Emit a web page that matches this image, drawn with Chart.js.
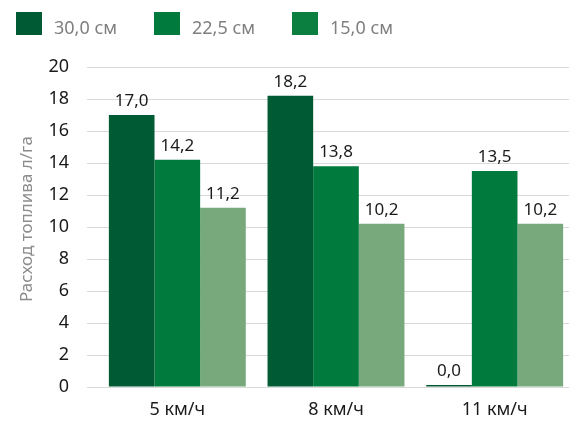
<!DOCTYPE html>
<html>
<head>
<meta charset="utf-8">
<script src="https://cdn.jsdelivr.net/npm/chart.js@4/dist/chart.umd.min.js"></script>
<style>
  html, body { margin: 0; padding: 0; overflow: hidden; background: #fff; width: 569px; height: 422px; }
  #wrap { width: 574px; height: 422px; position: relative; }
</style>
</head>
<body>
<div id="wrap"><canvas id="c"></canvas></div>
<script>
// Fuel consumption (l/ha) by working speed for three row spacings
const categories = ['5 км/ч', '8 км/ч', '11 км/ч'];
const seriesNames = ['30,0 см', '22,5 см', '15,0 см'];
const spacing30 = [17.0, 18.2, 0.0];
const spacing225 = [14.2, 13.8, 13.5];
const spacing15 = [11.2, 10.2, 10.2];
const yTickValues = [0, 2, 4, 6, 8, 10, 12, 14, 16, 18, 20];
const axisTitle = 'Расход топлива л/га';

const barColors = ['#005a33', '#007a3d', '#77a97c'];
const legendColors = ['#005a33', '#007a3d', '#0b7f40'];
const FONT = "'Noto Sans', 'Open Sans', sans-serif";

const fmt = v => v.toFixed(1).replace('.', ',');

// Value labels above each bar
const valueLabels = {
  id: 'valueLabels',
  afterDatasetsDraw(chart) {
    const ctx = chart.ctx;
    ctx.save();
    ctx.font = '17px ' + FONT;
    ctx.fillStyle = '#1a1a1a';
    ctx.textAlign = 'center';
    ctx.textBaseline = 'alphabetic';
    chart.data.datasets.forEach((ds, i) => {
      chart.getDatasetMeta(i).data.forEach((bar, j) => {
        ctx.fillText(fmt(ds.data[j]), bar.x, bar.y - 9);
      });
    });
    ctx.restore();
  }
};

// Legend row across the top and the rotated value-axis caption
const chrome = {
  id: 'chrome',
  afterDraw(chart) {
    const ctx = chart.ctx;
    ctx.save();
    ctx.font = '18px ' + FONT;
    ctx.textBaseline = 'alphabetic';
    ctx.textAlign = 'left';
    chart.data.datasets.forEach((ds, i) => {
      const x = 16 + i * 138;
      ctx.fillStyle = legendColors[i];
      ctx.fillRect(x, 12, 26, 23);
      ctx.fillStyle = '#7f7f7f';
      ctx.fillText(ds.label, x + 38, 34);
    });
    ctx.restore();

    ctx.save();
    ctx.translate(27, 219);
    ctx.rotate(-Math.PI / 2);
    ctx.font = '17px ' + FONT;
    ctx.fillStyle = '#8c8c8c';
    ctx.textAlign = 'center';
    ctx.textBaseline = 'middle';
    ctx.fillText(axisTitle, 0, 0);
    ctx.restore();
  }
};

new Chart(document.getElementById('c'), {
  type: 'bar',
  data: {
    labels: categories,
    datasets: [
      { label: seriesNames[0], data: spacing30, backgroundColor: barColors[0], minBarLength: 2 },
      { label: seriesNames[1], data: spacing225, backgroundColor: barColors[1] },
      { label: seriesNames[2], data: spacing15, backgroundColor: barColors[2] }
    ]
  },
  options: {
    responsive: true,
    maintainAspectRatio: false,
    animation: false,
    devicePixelRatio: 1,
    layout: { padding: { top: 67, left: 0, right: 0, bottom: 0 } },
    datasets: { bar: { categoryPercentage: 0.863, barPercentage: 1.0, borderWidth: 0 } },
    plugins: { legend: { display: false }, tooltip: { enabled: false } },
    scales: {
      x: {
        grid: { display: false },
        border: { display: false },
        ticks: { color: '#1a1a1a', font: { family: FONT, size: 18 }, padding: 4 },
        afterFit(scale) { scale.height = 35; }
      },
      y: {
        min: 0,
        max: 20,
        afterBuildTicks(scale) { scale.ticks = yTickValues.map(v => ({ value: v })); },
        grid: { color: '#d9d9d9', lineWidth: 1, tickLength: 11, drawTicks: true },
        border: { display: false },
        ticks: { color: '#1a1a1a', font: { family: FONT, size: 18 }, padding: 18 },
        afterFit(scale) { scale.width = 98; }
      }
    }
  },
  plugins: [valueLabels, chrome]
});
</script>
</body>
</html>
